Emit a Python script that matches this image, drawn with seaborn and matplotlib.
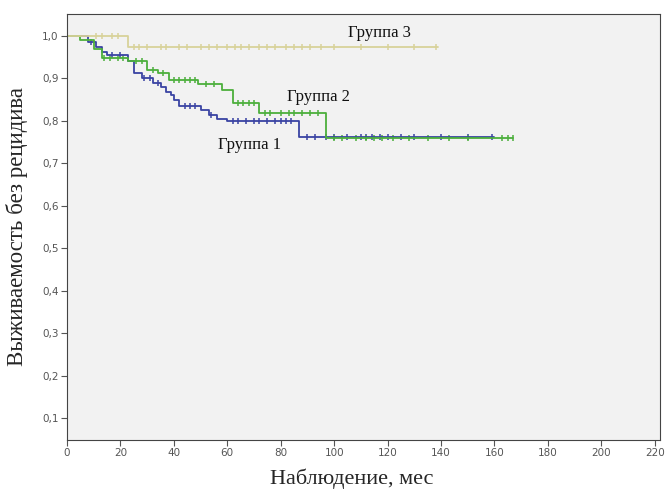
import numpy as np
import pandas as pd
import matplotlib
matplotlib.use("Agg")
import matplotlib.pyplot as plt
import seaborn as sns

# ---- data ----
g1_times = [0, 8, 11, 13, 15, 23, 25, 28, 32, 35, 37, 39, 40, 42, 50, 53, 56, 60, 87, 160]
g1_surv = [1.0, 0.986, 0.974, 0.962, 0.955, 0.94, 0.913, 0.90, 0.89, 0.88, 0.868, 0.861,
           0.849, 0.835, 0.826, 0.815, 0.805, 0.80, 0.762, 0.762]
g1_cens = [9, 17, 20, 29, 31, 34, 44, 46, 48, 54, 62, 64, 67, 70, 72, 75, 78, 80, 82, 84,
           90, 93, 97, 100, 105, 110, 112, 114, 117, 120, 125, 130, 140, 150, 159]

g2_times = [0, 5, 10, 13, 23, 30, 34, 38, 49, 58, 62, 72, 97, 167]
g2_surv = [1.0, 0.99, 0.97, 0.948, 0.94, 0.92, 0.913, 0.896, 0.887, 0.873, 0.842, 0.818, 0.76, 0.76]
g2_cens = [14, 16, 19, 21, 26, 28, 32, 36, 40, 42, 44, 46, 48, 52, 55, 64, 66, 68, 70, 74,
           76, 80, 83, 85, 88, 91, 94, 100, 103, 108, 112, 115, 118, 122, 128, 135, 143,
           150, 163, 165, 167]

g3_times = [0, 23, 139]
g3_surv = [1.0, 0.975, 0.975]
g3_cens = [11, 13, 17, 19, 25, 27, 30, 35, 37, 42, 45, 50, 53, 56, 60, 63, 65, 68, 72, 75,
           78, 82, 85, 88, 91, 95, 100, 110, 120, 130, 138]

groups = ["Группа 1", "Группа 2", "Группа 3"]
x_ticks = list(range(0, 221, 20))
y_ticks = [0.1, 0.2, 0.3, 0.4, 0.5, 0.6, 0.7, 0.8, 0.9, 1.0]
y_tick_labels = ["0,1", "0,2", "0,3", "0,4", "0,5", "0,6", "0,7", "0,8", "0,9", "1,0"]
label_pos = {"Группа 1": (68.5, 0.743), "Группа 2": (94, 0.856), "Группа 3": (117, 1.008)}

colors = {"Группа 1": "#3a43a3", "Группа 2": "#4caf3c", "Группа 3": "#d8d29a"}

curves = []
cens = []
for g, t, s, c in [(groups[0], g1_times, g1_surv, g1_cens),
                   (groups[1], g2_times, g2_surv, g2_cens),
                   (groups[2], g3_times, g3_surv, g3_cens)]:
    curves.append(pd.DataFrame({"t": t, "s": s, "g": g}))
    tt = np.array(t)
    ss = np.array(s)
    idx = np.searchsorted(tt, np.array(c), side="right") - 1
    cens.append(pd.DataFrame({"t": c, "s": ss[idx], "g": g}))
curve_df = pd.concat(curves, ignore_index=True)
cens_df = pd.concat(cens, ignore_index=True)

sns.set_style("white")
plt.rcParams["font.family"] = ["DejaVu Sans"]

fig = plt.figure(figsize=(6.67, 4.9), dpi=100)
ax = fig.add_axes([0.1005, 0.102, 0.889, 0.8696])
ax.set_facecolor("#f2f2f2")

for g in groups:
    sub = curve_df[curve_df.g == g]
    sns.lineplot(data=sub, x="t", y="s", ax=ax, color=colors[g], drawstyle="steps-post",
                 linewidth=1.3, estimator=None, sort=False, legend=False)
    csub = cens_df[cens_df.g == g]
    sns.scatterplot(data=csub, x="t", y="s", ax=ax, color=colors[g], marker="|", s=22,
                    linewidth=1.1, legend=False)
    lx, ly = label_pos[g]
    ax.text(lx, ly, g, ha="center", va="center", fontsize=12,
            family=["Liberation Serif"], color="#111111")

ax.set_xlim(0, 222)
ax.set_ylim(0.048, 1.052)
ax.set_xticks(x_ticks)
ax.set_xticklabels([str(v) for v in x_ticks])
ax.set_yticks(y_ticks)
ax.set_yticklabels(y_tick_labels)
ax.tick_params(axis="both", direction="out", length=4, width=0.8, color="#555555",
               labelsize=7.5, labelcolor="#555555", pad=2, bottom=True, left=True)
for sp in ax.spines.values():
    sp.set_color("#444444")
    sp.set_linewidth(0.8)

ax.set_xlabel("Наблюдение, мес", fontsize=16, family=["Liberation Serif"])
ax.xaxis.set_label_coords(0.48, -0.068)
ax.set_ylabel("Выживаемость без рецидива", fontsize=16.5, family=["Liberation Serif"], labelpad=10)

fig.savefig("out.png", dpi=100, facecolor="white")
